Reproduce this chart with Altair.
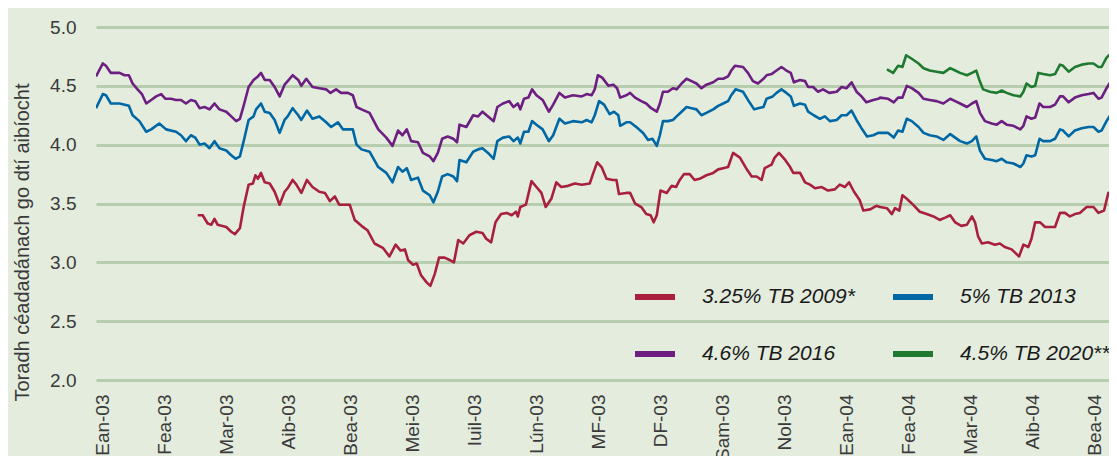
import altair as alt
import pandas as pd

# x = months since start of January 2003 (0 = Ean-03), y = yield %
month_labels = ["Ean-03", "Fea-03", "Mar-03", "Aib-03", "Bea-03", "Mei-03", "Iuil-03",
                "Lún-03", "MF-03", "DF-03", "Sam-03", "Nol-03", "Ean-04", "Fea-04",
                "Mar-04", "Aib-04", "Bea-04"]

series_names = ["3.25% TB 2009*", "5% TB 2013", "4.6% TB 2016", "4.5% TB 2020**"]
series_colors = ["#a8203d", "#0067a5", "#6c1f80", "#1f7a30"]
# legend is filled column by column: column 1 = 2009, 2016; column 2 = 2013, 2020
legend_order = [0, 2, 1, 3]

tb2016 = [(-0.10,4.58),(0.01,4.69),(0.06,4.67),(0.14,4.61),(0.28,4.61),(0.36,4.59),(0.43,4.59),(0.49,4.52),
 (0.57,4.47),(0.64,4.43),(0.71,4.35),(0.79,4.38),(0.87,4.41),(0.95,4.43),(1.02,4.39),(1.11,4.39),(1.19,4.38),
 (1.27,4.38),(1.35,4.35),(1.43,4.38),(1.50,4.37),(1.57,4.31),(1.65,4.32),(1.73,4.30),(1.81,4.35),(1.89,4.30),
 (2.00,4.28),(2.08,4.24),(2.16,4.20),(2.22,4.22),(2.29,4.35),(2.36,4.49),(2.44,4.55),(2.51,4.58),(2.56,4.61),
 (2.62,4.55),(2.70,4.55),(2.78,4.49),(2.86,4.41),(2.94,4.51),(2.99,4.54),(3.07,4.59),(3.16,4.55),(3.21,4.50),
 (3.29,4.56),(3.39,4.49),(3.50,4.48),(3.61,4.47),(3.68,4.44),(3.77,4.47),(3.85,4.44),(3.96,4.44),(4.04,4.42),
 (4.10,4.32),(4.18,4.30),(4.31,4.27),(4.45,4.13),(4.58,4.06),(4.68,3.99),(4.77,4.12),(4.84,4.08),(4.91,4.13),
 (4.98,4.03),(5.09,4.02),(5.17,3.93),(5.28,3.90),(5.34,3.86),(5.41,3.93),(5.48,4.05),(5.57,4.07),(5.66,4.05),
 (5.72,4.02),(5.76,4.17),(5.87,4.15),(5.98,4.25),(6.06,4.24),(6.13,4.28),(6.22,4.24),(6.31,4.20),(6.37,4.32),
 (6.46,4.35),(6.56,4.37),(6.63,4.32),(6.70,4.35),(6.74,4.30),(6.80,4.39),(6.87,4.40),(6.93,4.47),(7.00,4.42),
 (7.10,4.38),(7.20,4.28),(7.27,4.34),(7.37,4.44),(7.46,4.40),(7.59,4.42),(7.73,4.41),(7.81,4.43),(7.89,4.42),
 (7.94,4.47),(7.99,4.59),(8.06,4.57),(8.16,4.50),(8.24,4.51),(8.30,4.48),(8.35,4.40),(8.45,4.42),(8.51,4.44),
 (8.59,4.40),(8.69,4.37),(8.77,4.35),(8.85,4.31),(8.94,4.28),(8.99,4.35),(9.04,4.45),(9.12,4.45),(9.20,4.48),
 (9.26,4.47),(9.34,4.52),(9.42,4.56),(9.50,4.54),(9.58,4.52),(9.66,4.48),(9.74,4.51),(9.85,4.53),(9.93,4.56),
 (10.01,4.56),(10.09,4.58),(10.14,4.63),(10.20,4.67),(10.33,4.66),(10.41,4.61),(10.49,4.54),(10.57,4.52),
 (10.66,4.56),(10.71,4.59),(10.79,4.60),(10.87,4.63),(10.95,4.66),(11.03,4.63),(11.10,4.61),(11.15,4.53),
 (11.25,4.55),(11.33,4.54),(11.38,4.49),(11.46,4.49),(11.54,4.45),(11.62,4.47),(11.72,4.44),(11.84,4.45),
 (11.92,4.49),(12.00,4.48),(12.08,4.53),(12.16,4.45),(12.24,4.41),(12.32,4.36),(12.43,4.38),(12.51,4.39),
 (12.54,4.40),(12.67,4.39),(12.76,4.36),(12.83,4.40),(12.90,4.40),(12.97,4.50),(13.05,4.48),(13.16,4.44),
 (13.24,4.39),(13.34,4.38),(13.45,4.37),(13.56,4.35),(13.67,4.39),(13.75,4.37),(13.83,4.35),(13.94,4.32),
 (14.02,4.35),(14.09,4.37),(14.15,4.27),(14.23,4.20),(14.34,4.18),(14.42,4.17),(14.50,4.20),(14.58,4.17),
 (14.69,4.16),(14.80,4.13),(14.85,4.16),(14.90,4.24),(14.98,4.22),(15.04,4.23),(15.11,4.35),(15.17,4.32),
 (15.28,4.32),(15.36,4.34),(15.44,4.41),(15.49,4.41),(15.58,4.36),(15.68,4.40),(15.79,4.42),(15.90,4.43),
 (15.98,4.44),(16.06,4.39),(16.11,4.40),(16.19,4.48),(16.25,4.53),(16.36,4.52)]

tb2013 = [(-0.10,4.31),(0.01,4.43),(0.06,4.42),(0.14,4.35),(0.28,4.35),(0.43,4.33),(0.49,4.25),(0.60,4.20),
 (0.71,4.11),(0.79,4.13),(0.92,4.18),(1.03,4.13),(1.19,4.11),(1.27,4.08),(1.35,4.03),(1.43,4.08),(1.50,4.06),
 (1.57,4.00),(1.65,4.01),(1.73,3.97),(1.81,4.03),(1.89,3.97),(2.00,3.95),(2.08,3.91),(2.15,3.88),(2.22,3.90),
 (2.29,4.05),(2.36,4.21),(2.44,4.24),(2.48,4.30),(2.56,4.35),(2.62,4.28),(2.70,4.27),(2.78,4.21),(2.86,4.10),
 (2.94,4.21),(2.99,4.24),(3.07,4.31),(3.16,4.25),(3.21,4.21),(3.30,4.29),(3.39,4.22),(3.50,4.24),(3.61,4.19),
 (3.69,4.15),(3.80,4.19),(3.88,4.13),(4.04,4.13),(4.10,4.00),(4.18,3.96),(4.31,3.94),(4.45,3.81),(4.58,3.76),
 (4.68,3.68),(4.77,3.81),(4.84,3.77),(4.91,3.80),(4.98,3.70),(5.09,3.72),(5.17,3.61),(5.28,3.57),(5.34,3.51),
 (5.41,3.60),(5.48,3.73),(5.57,3.75),(5.66,3.73),(5.72,3.69),(5.76,3.87),(5.87,3.85),(5.98,3.94),(6.06,3.96),
 (6.13,3.97),(6.22,3.93),(6.31,3.88),(6.37,4.03),(6.46,4.06),(6.56,4.07),(6.63,4.03),(6.70,4.06),(6.74,4.01),
 (6.80,4.11),(6.87,4.11),(6.93,4.20),(7.00,4.17),(7.10,4.13),(7.20,4.03),(7.27,4.08),(7.37,4.22),(7.46,4.18),
 (7.59,4.20),(7.73,4.19),(7.81,4.21),(7.89,4.19),(7.94,4.25),(8.01,4.37),(8.09,4.34),(8.18,4.26),(8.25,4.28),
 (8.32,4.25),(8.35,4.16),(8.45,4.19),(8.51,4.19),(8.61,4.15),(8.72,4.10),(8.80,4.04),(8.87,4.05),(8.94,3.99),
 (8.99,4.08),(9.04,4.20),(9.12,4.20),(9.20,4.21),(9.26,4.24),(9.34,4.28),(9.42,4.32),(9.50,4.31),(9.58,4.30),
 (9.66,4.25),(9.74,4.27),(9.85,4.30),(9.93,4.33),(10.01,4.35),(10.09,4.37),(10.14,4.42),(10.21,4.47),
 (10.33,4.45),(10.41,4.38),(10.51,4.30),(10.57,4.31),(10.66,4.32),(10.71,4.39),(10.81,4.41),(10.87,4.44),
 (10.95,4.47),(11.03,4.44),(11.10,4.41),(11.15,4.33),(11.25,4.35),(11.33,4.34),(11.38,4.28),(11.47,4.25),
 (11.57,4.22),(11.65,4.24),(11.73,4.20),(11.84,4.21),(11.92,4.25),(12.00,4.25),(12.08,4.29),(12.16,4.21),
 (12.24,4.14),(12.33,4.07),(12.43,4.08),(12.51,4.10),(12.54,4.10),(12.67,4.10),(12.76,4.06),(12.83,4.12),
 (12.90,4.11),(12.97,4.22),(13.05,4.20),(13.16,4.15),(13.24,4.10),(13.34,4.08),(13.45,4.07),(13.56,4.04),
 (13.67,4.09),(13.75,4.06),(13.83,4.03),(13.94,4.01),(14.02,4.03),(14.09,4.07),(14.15,3.95),(14.23,3.88),
 (14.34,3.87),(14.42,3.86),(14.50,3.88),(14.58,3.85),(14.69,3.84),(14.80,3.81),(14.85,3.84),(14.90,3.91),
 (14.98,3.90),(15.04,3.91),(15.11,4.05),(15.17,4.03),(15.28,4.03),(15.36,4.05),(15.44,4.13),(15.49,4.12),
 (15.58,4.07),(15.68,4.12),(15.79,4.14),(15.90,4.15),(15.98,4.15),(16.06,4.11),(16.11,4.12),(16.19,4.20),
 (16.25,4.25),(16.36,4.26)]

tb2009 = [(1.54,3.40),(1.62,3.40),(1.70,3.33),(1.76,3.32),(1.81,3.37),(1.86,3.32),(2.00,3.30),(2.08,3.26),
 (2.14,3.24),(2.22,3.29),(2.28,3.47),(2.36,3.66),(2.43,3.67),(2.47,3.74),(2.51,3.71),(2.56,3.76),(2.62,3.68),
 (2.70,3.67),(2.78,3.60),(2.86,3.49),(2.94,3.60),(2.99,3.63),(3.07,3.70),(3.13,3.66),(3.21,3.59),(3.30,3.70),
 (3.39,3.64),(3.50,3.60),(3.59,3.59),(3.67,3.52),(3.75,3.56),(3.82,3.49),(3.99,3.49),(4.07,3.36),(4.18,3.31),
 (4.28,3.27),(4.39,3.16),(4.53,3.12),(4.63,3.05),(4.73,3.15),(4.81,3.10),(4.88,3.11),(4.93,3.02),(5.01,2.98),
 (5.07,2.99),(5.14,2.89),(5.23,2.83),(5.29,2.80),(5.36,2.90),(5.43,3.04),(5.52,3.04),(5.60,3.02),(5.67,3.00),
 (5.74,3.19),(5.82,3.16),(5.92,3.23),(6.03,3.26),(6.13,3.25),(6.19,3.20),(6.27,3.17),(6.34,3.34),(6.43,3.41),
 (6.52,3.42),(6.60,3.40),(6.67,3.43),(6.70,3.39),(6.74,3.47),(6.83,3.49),(6.92,3.69),(7.00,3.64),(7.08,3.59),
 (7.15,3.47),(7.24,3.54),(7.32,3.68),(7.40,3.64),(7.51,3.65),(7.62,3.67),(7.73,3.66),(7.86,3.67),(7.91,3.75),
 (7.98,3.85),(8.05,3.81),(8.13,3.71),(8.23,3.70),(8.29,3.70),(8.33,3.58),(8.45,3.59),(8.51,3.59),(8.59,3.50),
 (8.69,3.47),(8.77,3.41),(8.84,3.40),(8.89,3.34),(8.94,3.40),(9.00,3.61),(9.10,3.59),(9.18,3.65),(9.25,3.64),
 (9.31,3.70),(9.38,3.75),(9.47,3.75),(9.55,3.70),(9.63,3.71),(9.74,3.74),(9.85,3.76),(9.93,3.79),(10.01,3.80),
 (10.09,3.81),(10.17,3.93),(10.28,3.89),(10.38,3.80),(10.47,3.73),(10.55,3.73),(10.63,3.70),(10.68,3.80),
 (10.79,3.83),(10.84,3.89),(10.91,3.93),(11.01,3.87),(11.09,3.81),(11.14,3.76),(11.25,3.76),(11.33,3.68),
 (11.41,3.66),(11.49,3.63),(11.60,3.64),(11.70,3.61),(11.81,3.62),(11.89,3.66),(11.97,3.64),(12.04,3.68),
 (12.12,3.60),(12.21,3.53),(12.27,3.44),(12.38,3.45),(12.48,3.48),(12.54,3.47),(12.65,3.46),(12.73,3.41),
 (12.78,3.46),(12.85,3.44),(12.90,3.57),(12.97,3.54),(13.07,3.49),(13.18,3.43),(13.29,3.41),(13.40,3.39),
 (13.50,3.36),(13.59,3.38),(13.67,3.40),(13.75,3.34),(13.85,3.31),(13.94,3.32),(14.02,3.39),(14.07,3.34),
 (14.12,3.22),(14.18,3.16),(14.28,3.17),(14.39,3.15),(14.47,3.16),(14.55,3.13),(14.66,3.11),(14.74,3.07),
 (14.78,3.05),(14.85,3.15),(14.93,3.13),(14.98,3.20),(15.04,3.34),(15.12,3.34),(15.20,3.30),(15.36,3.30),
 (15.44,3.42),(15.52,3.42),(15.60,3.39),(15.68,3.41),(15.76,3.42),(15.87,3.47),(15.98,3.47),(16.06,3.42),
 (16.15,3.44),(16.22,3.59),(16.30,3.59),(16.36,3.60)]

tb2020 = [(12.65,4.64),(12.75,4.61),(12.83,4.67),(12.90,4.66),(12.96,4.76),(13.05,4.73),(13.16,4.69),
 (13.24,4.65),(13.34,4.63),(13.45,4.62),(13.56,4.61),(13.67,4.65),(13.75,4.63),(13.83,4.61),(13.94,4.59),
 (14.02,4.61),(14.09,4.63),(14.14,4.55),(14.20,4.47),(14.31,4.45),(14.42,4.44),(14.50,4.46),(14.58,4.44),
 (14.69,4.42),(14.80,4.41),(14.85,4.45),(14.90,4.52),(14.98,4.49),(15.04,4.50),(15.09,4.61),(15.17,4.60),
 (15.28,4.59),(15.36,4.60),(15.44,4.68),(15.49,4.67),(15.58,4.62),(15.68,4.66),(15.79,4.68),(15.90,4.69),
 (15.98,4.69),(16.06,4.66),(16.11,4.66),(16.19,4.74),(16.27,4.78),(16.36,4.78)]

y_ticks = [2.0, 2.5, 3.0, 3.5, 4.0, 4.5, 5.0]

rows = []
for name, pts in zip(series_names, [tb2009, tb2013, tb2016, tb2020]):
    for i, (m, v) in enumerate(pts):
        rows.append({"series": name, "month": m, "yield": v, "order": i})
df = pd.DataFrame(rows)

FONT = "Liberation Sans"
label_expr = "[" + ",".join("'%s'" % s for s in month_labels) + "][datum.value]"
dom = [series_names[i] for i in legend_order]
rng = [series_colors[i] for i in legend_order]

chart = alt.Chart(df).mark_line(strokeWidth=2.6, clip=True, strokeJoin="round").encode(
    x=alt.X("month:Q",
            scale=alt.Scale(domain=[-0.10, 16.23], nice=False, zero=False),
            axis=alt.Axis(values=list(range(len(month_labels))), labelExpr=label_expr,
                          labelAngle=-90, grid=False, domain=False, ticks=False, tickSize=0,
                          labelPadding=14, labelFontSize=19, labelFont=FONT,
                          labelColor="#3a3a3a", title=None, labelOverlap=False)),
    y=alt.Y("yield:Q",
            scale=alt.Scale(domain=[2.0, 5.0], nice=False, zero=False),
            axis=alt.Axis(values=y_ticks, format=".1f", grid=True, gridColor="#b6cdae",
                          gridWidth=3, domain=False, ticks=False, tickSize=0,
                          labelPadding=20, labelFontSize=19, labelFont=FONT, labelColor="#3a3a3a",
                          title="Toradh céadadánach go dtí aibíocht", titleFont=FONT,
                          titleFontSize=20, titleFontWeight="normal", titleColor="#3a3a3a",
                          titleAngle=-90, titleX=-74, titleY=215, titleAlign="center",
                          titleBaseline="middle")),
    color=alt.Color("series:N",
                    scale=alt.Scale(domain=dom, range=rng),
                    legend=alt.Legend(title=None, orient="none", legendX=536, legendY=247,
                                      columns=2, columnPadding=26, rowPadding=22,
                                      symbolType="stroke", symbolSize=1600, symbolStrokeWidth=6,
                                      labelOffset=24, labelFont=FONT, labelFontSize=21,
                                      labelFontStyle="italic", labelColor="#1a1a1a",
                                      padding=0, labelLimit=400)),
    detail="series:N",
    order="order:Q",
).properties(
    width=1013, height=353,
    background="#e3ecdd",
    padding={"left": 88, "top": 19, "right": 0, "bottom": 76},
    autosize=alt.AutoSizeParams(type="none"),
).configure_view(stroke=None, fill="#e3ecdd")

chart.save("out.html", embed_options={"renderer": "svg", "actions": False})
